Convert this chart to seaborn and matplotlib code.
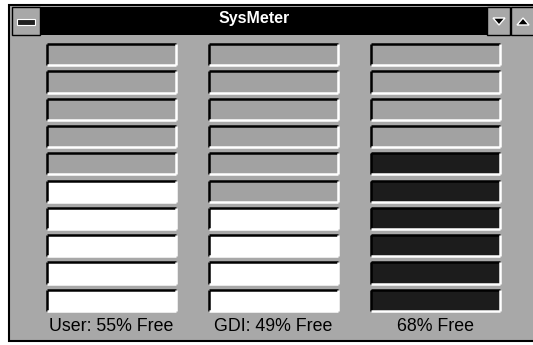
import matplotlib
matplotlib.use("Agg")
import matplotlib.pyplot as plt
from matplotlib.patches import Rectangle, Polygon
import seaborn as sns
import pandas as pd

# ---- data ----
meter_labels = ["User: 55% Free", "GDI: 49% Free", "68% Free"]
percent_free = [55, 49, 68]
n_segments = 10
fill_colors = ["#ffffff", "#ffffff", "#1c1c1c"]
empty_color = "#a2a2a2"
bg_color = "#a8a8a8"

sns.set_theme(style="white")
plt.rcParams['font.family'] = ['Liberation Sans', 'DejaVu Sans']

W, H = 533, 345
fig = plt.figure(figsize=(W / 100, H / 100), dpi=100)
fig.patch.set_facecolor("white")


def fx(x):
    return x / W


def fy(y):
    return 1 - y / H


def frect(x0, y0, x1, y1, z=-1, **kw):
    r = Rectangle((fx(x0), fy(y1)), fx(x1) - fx(x0), fy(y0) - fy(y1),
                  transform=fig.transFigure, zorder=z, **kw)
    fig.patches.append(r)
    return r


def fline(xs, ys, **kw):
    fig.add_artist(plt.Line2D([fx(v) for v in xs], [fy(v) for v in ys],
                              transform=fig.transFigure, zorder=-1, **kw))


# window frame
frect(9, 5, 540, 341, facecolor=bg_color, edgecolor="black", linewidth=1.5)
fline([13, 13], [35, 338], color="black", linewidth=1.2)
fline([13, 540], [338, 338], color="black", linewidth=1.2)
fline([9, 540], [36, 36], color="black", linewidth=1.5)
# title bar
frect(40, 7, 487, 35, facecolor="black", edgecolor="none")
fig.text(fx(254), fy(19), "SysMeter", color="white", fontsize=11.5,
         fontweight="bold", ha="center", va="center")
# control-menu box
frect(12, 7, 40, 35, facecolor=bg_color, edgecolor="black", linewidth=1)
frect(17, 19, 35, 25, facecolor="#202020", edgecolor="white", linewidth=0.8)
# min / max buttons
frect(487, 7, 510, 35, facecolor=bg_color, edgecolor="black", linewidth=1)
frect(511, 7, 540, 35, facecolor=bg_color, edgecolor="black", linewidth=1)
fig.patches.append(Polygon([(fx(493), fy(18)), (fx(505), fy(18)), (fx(499), fy(25))],
                           closed=True, transform=fig.transFigure, facecolor="black"))
fig.patches.append(Polygon([(fx(517), fy(25)), (fx(529), fy(25)), (fx(523), fy(18))],
                           closed=True, transform=fig.transFigure, facecolor="black"))

# meters
col_left = [47, 209, 371]
col_width = 129
top, bottom = 41, 314

for k in range(3):
    ax = fig.add_axes([fx(col_left[k]), fy(bottom), col_width / W, (bottom - top) / H])
    n_fill = percent_free[k] // 10
    seg = [str(i) for i in range(n_segments)]
    colors = [fill_colors[k] if i >= n_segments - n_fill else empty_color
              for i in range(n_segments)]
    df = pd.DataFrame({"seg": seg, "val": [1] * n_segments})
    sns.barplot(data=df, x="val", y="seg", hue="seg", palette=colors,
                orient="h", width=0.78, legend=False, ax=ax,
                edgecolor="none", linewidth=0, saturation=1)
    ax.set_xlim(0, 1)
    ax.set_ylim(n_segments - 0.5, -0.5)
    ax.set_facecolor("none")
    for s in ax.spines.values():
        s.set_visible(False)
    ax.set_xticks([])
    ax.set_yticks([])
    ax.set_ylabel("")
    ax.set_xlabel(meter_labels[k], fontsize=12.8, color="black", labelpad=3)
    for p in ax.patches:
        x0, y0 = p.get_x(), p.get_y()
        x1, y1 = x0 + p.get_width(), y0 + p.get_height()
        # dark top & left, light bottom & right (bevel)
        ax.plot([x0, x1], [y0, y0], color="black", lw=1.8, clip_on=False,
                solid_capstyle="butt")
        ax.plot([x0, x0], [y0, y1], color="black", lw=1.8, clip_on=False,
                solid_capstyle="butt")
        ax.plot([x0, x1], [y1, y1], color="white", lw=1.8, clip_on=False,
                solid_capstyle="butt")
        ax.plot([x1, x1], [y0, y1], color="white", lw=1.8, clip_on=False,
                solid_capstyle="butt")

fig.savefig("out.png", dpi=100)
